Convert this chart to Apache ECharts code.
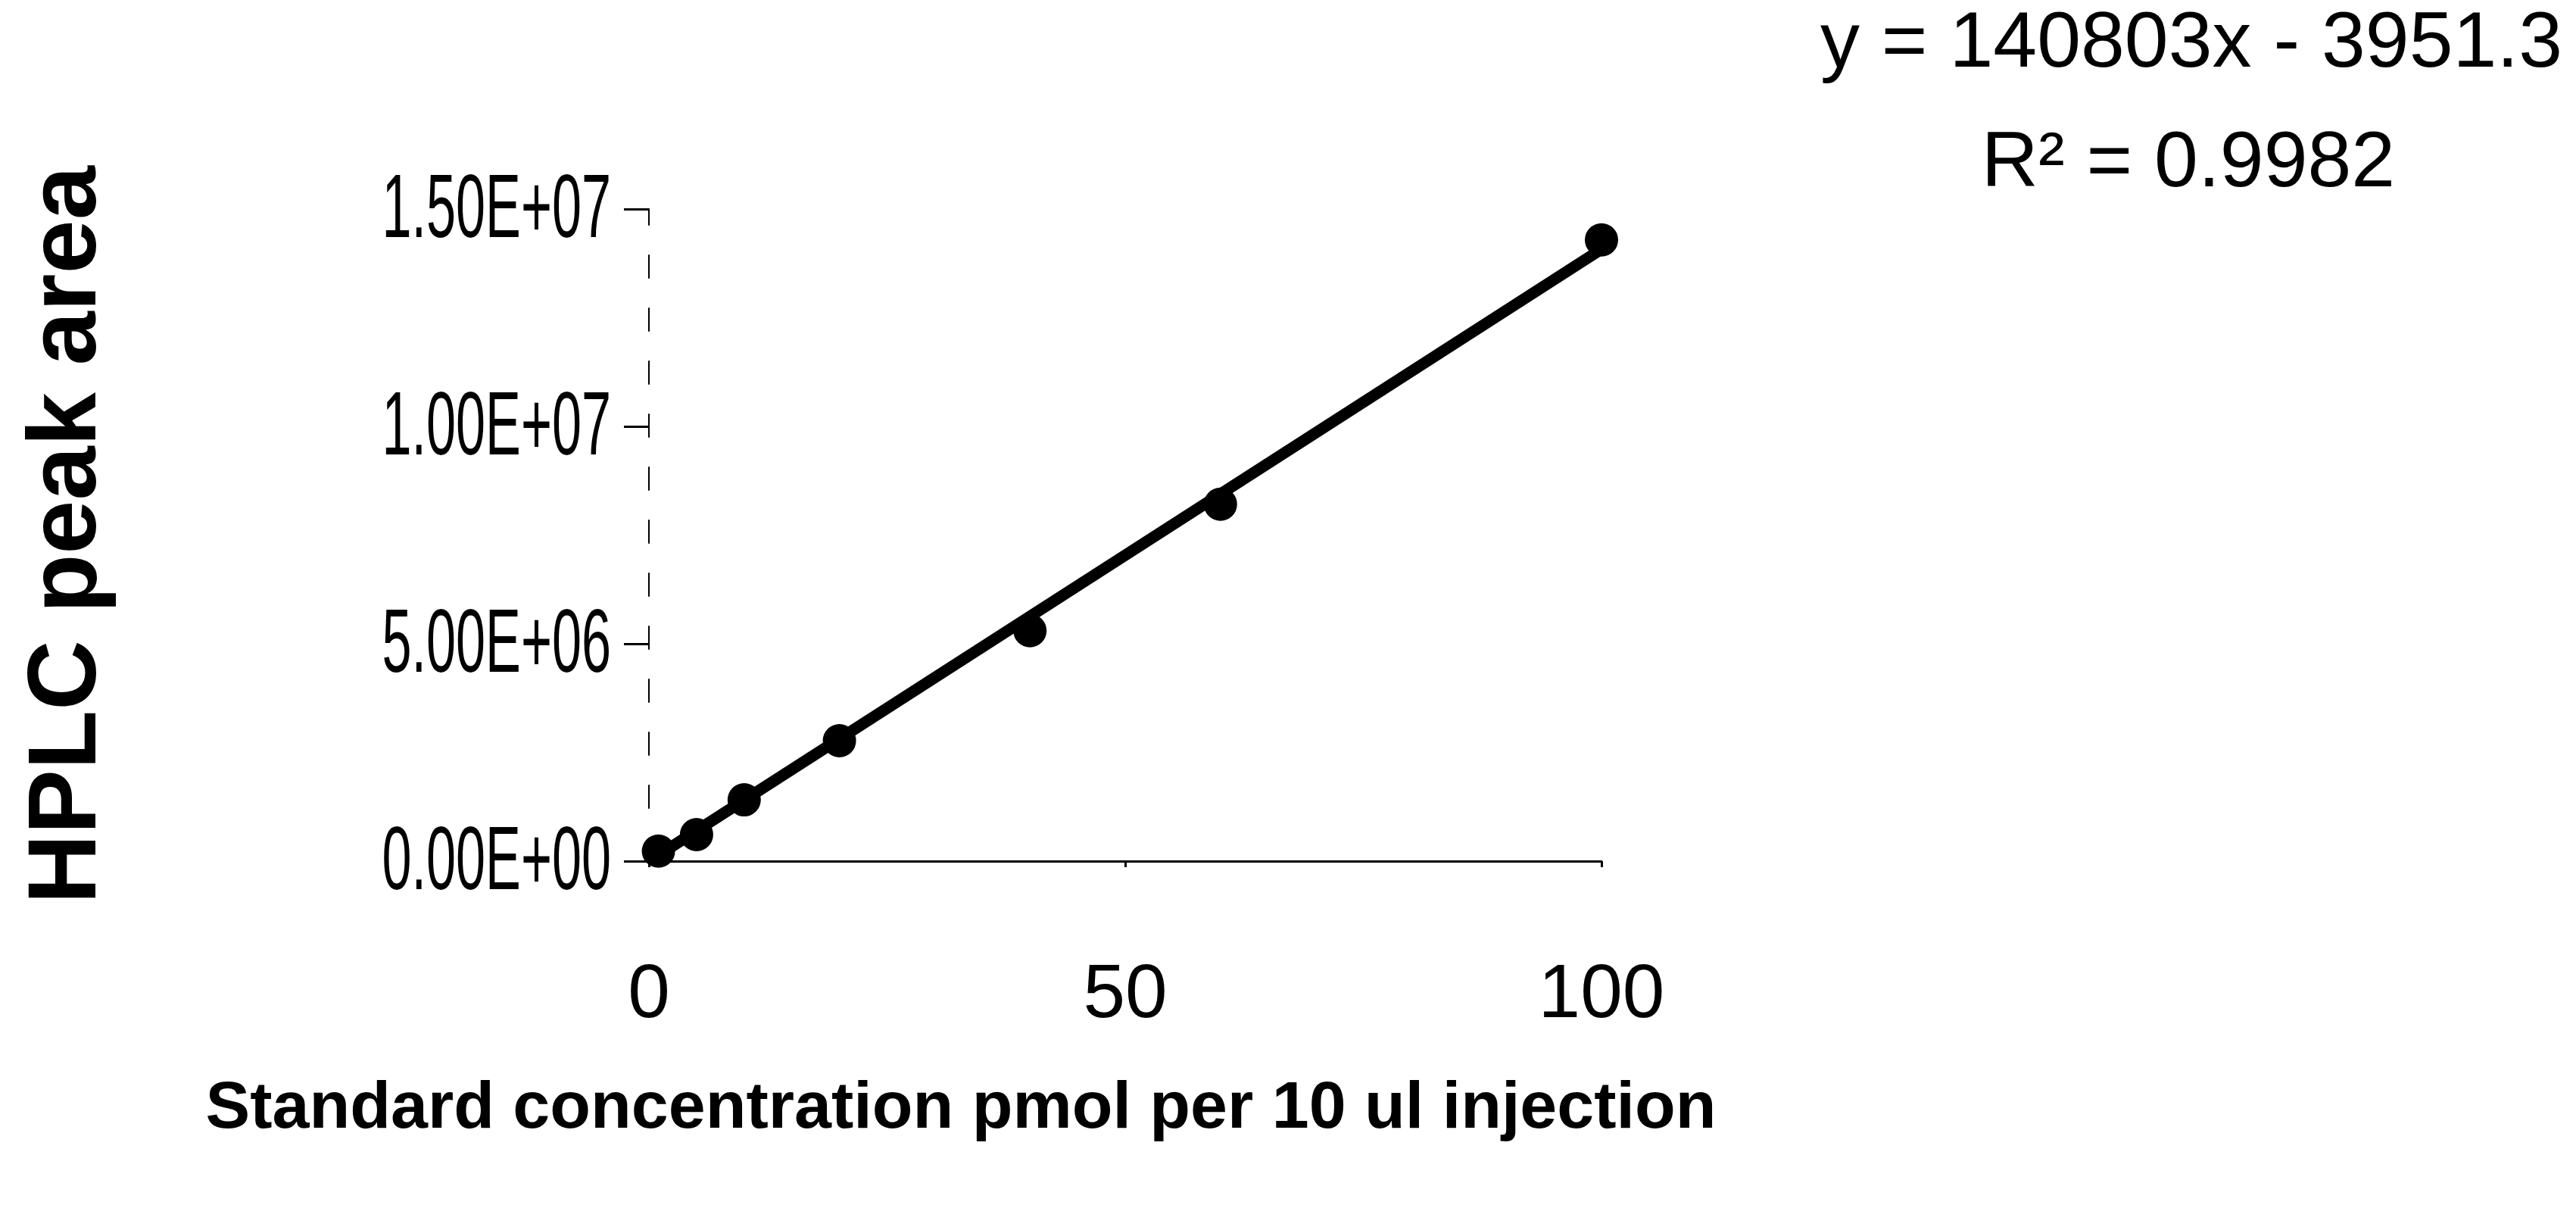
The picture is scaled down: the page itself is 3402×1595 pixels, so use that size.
<!DOCTYPE html>
<html>
<head>
<meta charset="utf-8">
<script src="https://cdn.jsdelivr.net/npm/echarts@6/dist/echarts.min.js"></script>
<style>
  html, body { margin: 0; padding: 0; background: #fff; }
  #chart { width: 3402px; height: 1595px; }
</style>
</head>
<body>
<div id="chart"></div>
<script>
// Calibration standards: concentration (pmol per 10 ul injection) and HPLC peak area
const concentrations = [1, 5, 10, 20, 40, 60, 100];
const peakAreas = [2.3e5, 6.1e5, 1.41e6, 2.77e6, 5.30e6, 8.21e6, 1.429e7];

// Linear fit reported with the chart
const fitSlope = 140803;
const fitIntercept = -3951.3;
const fitR2 = 0.9982;

// Axis ticks
const xTickValues = [0, 50, 100];
const xTickLabels = ['0', '50', '100'];
const yTickValues = [0, 5e6, 1e7, 1.5e7];
const yTickLabels = ['0.00E+00', '5.00E+06', '1.00E+07', '1.50E+07'];

const FONT = '"Liberation Sans", Arial, Helvetica, sans-serif';

const points = concentrations.map((c, i) => [c, peakAreas[i]]);
const xLo = Math.min(...concentrations);
const xHi = Math.max(...concentrations);
const fitLine = [xLo, xHi].map(x => [x, fitSlope * x + fitIntercept]);

const chart = echarts.init(document.getElementById('chart'), null, { renderer: 'canvas' });

chart.setOption({
  backgroundColor: '#ffffff',
  animation: false,
  grid: { left: 857, right: 1287, top: 276, bottom: 458, containLabel: false },
  xAxis: {
    type: 'value',
    min: xTickValues[0],
    max: xTickValues[xTickValues.length - 1],
    interval: xTickValues[1] - xTickValues[0],
    axisLine: { show: true, lineStyle: { color: '#000', width: 3 } },
    axisTick: { show: true, inside: false, length: 8, lineStyle: { color: '#000', width: 3 } },
    splitLine: { show: false },
    axisLabel: {
      margin: 128,
      color: '#000',
      fontFamily: FONT,
      fontSize: 100,
      formatter: v => xTickLabels[xTickValues.indexOf(v)]
    },
    name: 'Standard concentration pmol per 10 ul injection',
    nameLocation: 'middle',
    nameGap: 284,
    nameTextStyle: {
      color: '#000',
      fontFamily: FONT,
      fontWeight: 'bold',
      fontSize: 88,
      padding: [0, 434, 0, 0]
    }
  },
  yAxis: {
    type: 'value',
    min: yTickValues[0],
    max: yTickValues[yTickValues.length - 1],
    interval: yTickValues[1] - yTickValues[0],
    axisLine: { show: true, lineStyle: { color: '#000', width: 2, type: [30, 40] } },
    axisTick: { show: true, inside: false, length: 33, lineStyle: { color: '#000', width: 3 } },
    splitLine: { show: false },
    axisLabel: { show: false },
    name: 'HPLC peak area',
    nameLocation: 'middle',
    nameGap: 702,
    nameTextStyle: {
      color: '#000',
      fontFamily: FONT,
      fontWeight: 'bold',
      fontSize: 128
    }
  },
  series: [
    {
      name: 'Linear fit',
      type: 'line',
      data: fitLine,
      showSymbol: false,
      symbol: 'none',
      lineStyle: { color: '#000', width: 15, opacity: 1 },
      z: 2
    },
    {
      name: 'Standards',
      type: 'scatter',
      data: points,
      symbol: 'circle',
      symbolSize: 44,
      itemStyle: { color: '#000', opacity: 1 },
      z: 3
    }
  ]
});

// Y tick labels in a condensed face, placed on the axis scale
const yLabelRight = 807;
const yLabels = yTickValues.map((v, i) => ({
  type: 'text',
  x: yLabelRight,
  y: chart.convertToPixel({ yAxisIndex: 0 }, v) + 4,
  scaleX: 0.59,
  style: {
    text: yTickLabels[i],
    font: '119px ' + FONT,
    fill: '#000',
    textAlign: 'right',
    textVerticalAlign: 'middle'
  }
}));

// Regression equation and R squared
const eqText = 'y = ' + fitSlope + 'x - ' + Math.abs(fitIntercept);
const r2Text = 'R\u00B2 = ' + fitR2;

chart.setOption({
  graphic: yLabels.concat([
    {
      type: 'text',
      x: 2894,
      y: 59,
      style: { text: eqText, font: '104px ' + FONT, fill: '#000', textAlign: 'center', textVerticalAlign: 'middle' }
    },
    {
      type: 'text',
      x: 2890,
      y: 217,
      style: { text: r2Text, font: '104px ' + FONT, fill: '#000', textAlign: 'center', textVerticalAlign: 'middle' }
    }
  ])
});
</script>
</body>
</html>
